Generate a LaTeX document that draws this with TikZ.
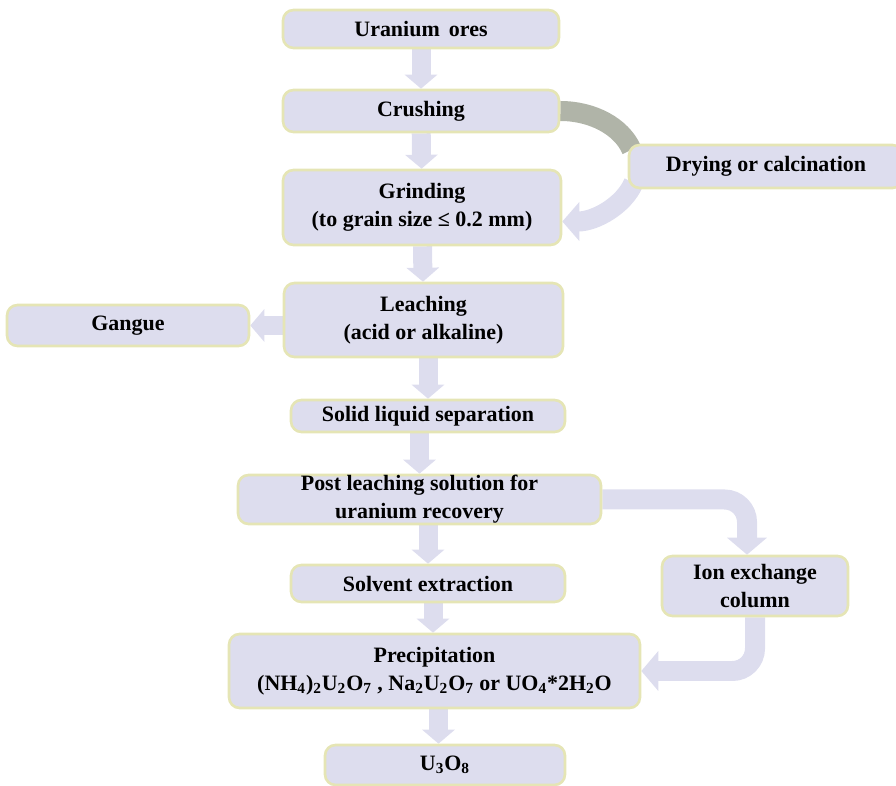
\documentclass[tikz,border=0pt]{standalone}
\usepackage{fontspec}
\setmainfont{Liberation Serif}
\usetikzlibrary{arrows.meta,calc,backgrounds}
\definecolor{boxfill}{RGB}{221,221,238}
\definecolor{boxedge}{RGB}{229,229,181}
\definecolor{loopgray}{RGB}{176,180,168}
\newcommand{\sub}[1]{\textsubscript{#1}}

\tikzset{
  stage/.style={draw=boxedge, line width=1.5pt, fill=boxfill, rounded corners=6pt,
    align=center, inner sep=2pt, font=\fontsize{12.5}{16}\selectfont\bfseries},
  flow/.style={draw=boxfill, line width=0.38cm, -{Triangle[length=0.28cm,width=0.64cm]}},
  bigflow/.style={draw=boxfill, line width=0.4cm, rounded corners=0.45cm,
    -{Triangle[length=0.34cm,width=0.78cm]}},
}

\begin{document}
\begin{tikzpicture}[x=0.02cm,y=-0.02cm]
\useasboundingbox (0,0) rectangle (896,786);

% process stages
\node[stage, minimum width=5.52cm, minimum height=0.76cm] (ores)   at (421,29)    {Uranium\, ores};
\node[stage, minimum width=5.52cm, minimum height=0.84cm] (crush)  at (421,111)   {Crushing};
\node[stage, minimum width=5.56cm, minimum height=1.5cm]  (grind)  at (422,207.5) {Grinding\\(to grain size ≤ 0.2 mm)};
\node[stage, minimum width=5.48cm, minimum height=0.86cm] (dry)    at (766,166.5) {Drying or calcination};
\node[stage, minimum width=5.58cm, minimum height=1.48cm] (leach)  at (423.5,320) {Leaching\\(acid or alkaline)};
\node[stage, minimum width=4.84cm, minimum height=0.82cm] (gangue) at (128,325.5)  {Gangue};
\node[stage, minimum width=5.48cm, minimum height=0.64cm] (solid)  at (428,416)   {Solid liquid separation};
\node[stage, minimum width=7.26cm, minimum height=0.98cm, inner sep=0pt] (post) at (419.5,499.5) {Post leaching solution for\\uranium recovery};
\node[stage, minimum width=5.48cm, minimum height=0.74cm] (solv)   at (428,583.5) {Solvent extraction};
\node[stage, minimum width=3.72cm, minimum height=1.2cm]  (ion)    at (755,586)   {Ion exchange\\column};
\node[stage, minimum width=8.22cm, minimum height=1.48cm] (prec)   at (434.5,671) {Precipitation\\(NH\sub{4})\sub{2}U\sub{2}O\sub{7} , Na\sub{2}U\sub{2}O\sub{7} or UO\sub{4}*2H\sub{2}O};
\node[stage, minimum width=4.8cm,  minimum height=0.8cm]  (u3o8)   at (445,765)   {U\sub{3}O\sub{8}};

% connectors
\begin{scope}[on background layer]
  \draw[flow] (ores) -- (crush);
  \draw[flow] (crush) -- (grind);
  \draw[flow] (grind) -- (leach);
  \draw[flow] (leach.west |- gangue.east) -- (gangue.east);
  \draw[flow] (leach.south -| solid.north) -- (solid.north);
  \draw[flow] (solid.south -| post.north) -- (post.north);
  \draw[flow] (post.south -| solv.north) -- (solv.north);
  \draw[flow] ($(solv.south)+(5,0)$) -- ($(solv.south |- prec.north)+(5,0)$);
  \draw[flow] ($(prec.south)+(4,0)$) -- ($(prec.south |- u3o8.north)+(4,0)$);
  \draw[bigflow] (post.east) -| ($(ion.north)+(-8,0)$);
  \draw[bigflow] (ion.south) |- (prec.east);
  % loop through drying
  \draw[draw=loopgray, line width=0.4cm] (crush.east) arc[start angle=-90, end angle=-18, x radius=75, y radius=56];
  \draw[draw=boxfill, line width=0.4cm, {Triangle[length=0.34cm,width=0.76cm]}-]
    ($(grind.east)+(0,14)$) arc[start angle=90, end angle=18, x radius=75, y radius=56];
\end{scope}
\end{tikzpicture}
\end{document}
